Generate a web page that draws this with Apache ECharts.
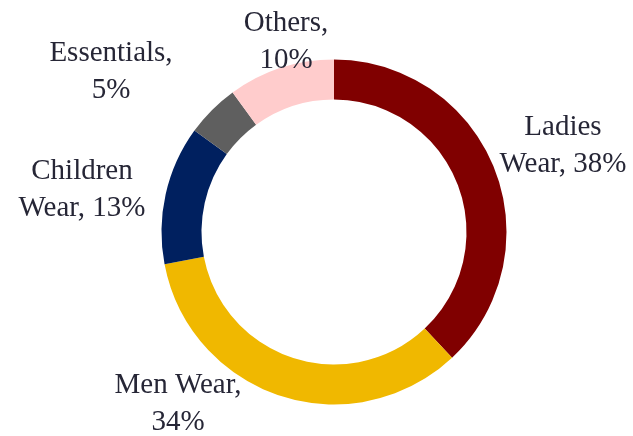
<!DOCTYPE html>
<html>
<head>
<meta charset="utf-8">
<script src="https://cdn.jsdelivr.net/npm/echarts@6/dist/echarts.min.js"></script>
<style>
  html, body { margin: 0; padding: 0; background: #ffffff; }
  #chart { width: 633px; height: 436px; }
</style>
</head>
<body>
<div id="chart"></div>
<script>
// Sales mix by category (percent of total)
const categories = ['Ladies Wear', 'Men Wear', 'Children Wear', 'Essentials', 'Others'];
const shares = [38, 34, 13, 5, 10];
// number of words kept on the first line of each label
const firstLineWords = [1, 2, 1, 1, 1];

const colors = ['#800000', '#F0B800', '#00205F', '#5F5F5F', '#FFCCCC'];

// label block centres around the ring
const labelSpots = [
  [563, 146],
  [178, 404],
  [82, 190],
  [111, 72],
  [286, 42]
];

const chart = echarts.init(document.getElementById('chart'), null, { renderer: 'canvas' });

chart.setOption({
  animation: false,
  backgroundColor: '#ffffff',
  series: [{
    type: 'pie',
    center: [334, 232],
    radius: [132.5, 172.5],
    startAngle: 90,
    clockwise: true,
    avoidLabelOverlap: false,
    silent: true,
    itemStyle: { borderWidth: 0 },
    label: {
      show: true,
      position: 'outside',
      fontFamily: '"Liberation Serif", serif',
      fontSize: 29,
      lineHeight: 37,
      color: '#262636',
      align: 'center',
      formatter: function (p) {
        const words = (p.name + ', ' + p.value + '%').split(' ');
        const n = firstLineWords[p.dataIndex];
        return words.slice(0, n).join(' ') + '\n' + words.slice(n).join(' ');
      }
    },
    labelLine: { show: false },
    labelLayout: function (params) {
      const s = labelSpots[params.dataIndex];
      return { x: s[0], y: s[1], align: 'center', verticalAlign: 'middle' };
    },
    data: categories.map((name, i) => ({
      name: name,
      value: shares[i],
      itemStyle: { color: colors[i] }
    }))
  }]
});
</script>
</body>
</html>
